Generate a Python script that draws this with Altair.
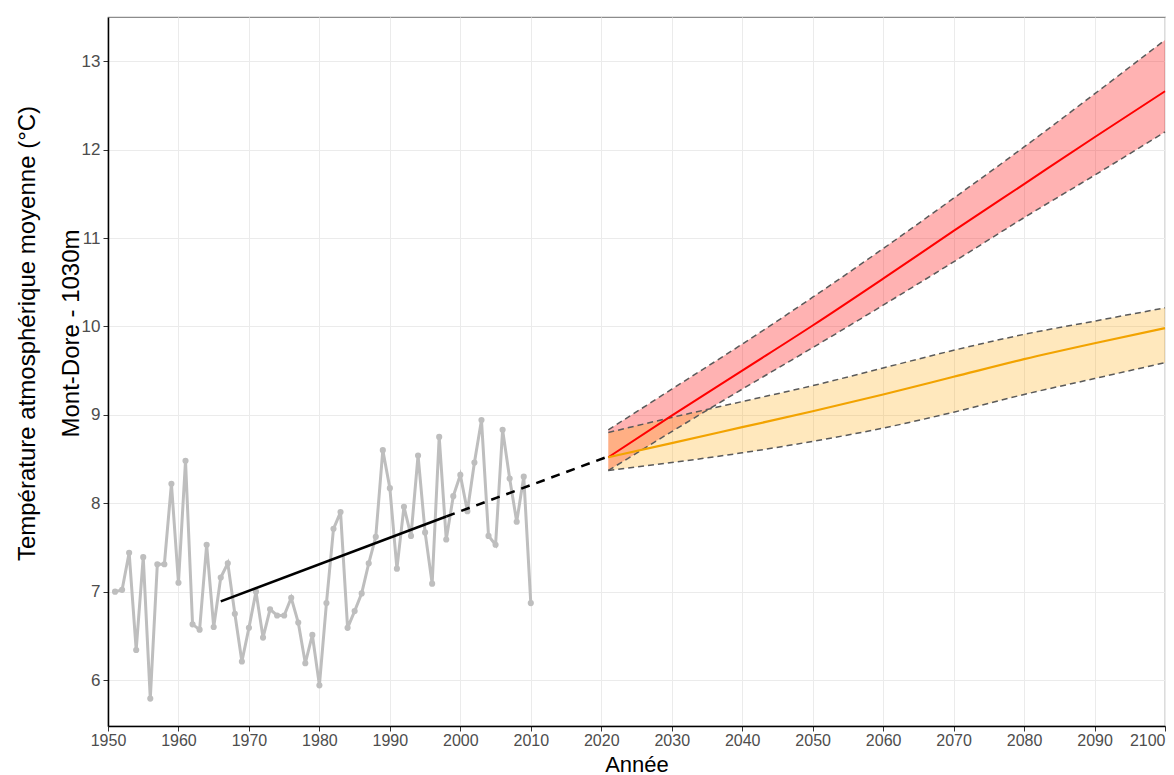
import altair as alt
import pandas as pd

# ---- observed annual means (Mont-Dore) ----
obs_years = list(range(1951, 2011))
obs_temps = [7.00, 7.02, 7.44, 6.34, 7.39, 5.79, 7.31, 7.31, 8.22, 7.10,
             8.48, 6.63, 6.57, 7.53, 6.60, 7.16, 7.32, 6.75, 6.21, 6.59,
             7.00, 6.48, 6.80, 6.73, 6.73, 6.93, 6.65, 6.19, 6.51, 5.94,
             6.87, 7.71, 7.90, 6.59, 6.78, 6.98, 7.32, 7.62, 8.60, 8.17,
             7.26, 7.96, 7.63, 8.54, 7.67, 7.09, 8.75, 7.59, 8.08, 8.32,
             7.91, 8.46, 8.94, 7.63, 7.53, 8.83, 8.28, 7.79, 8.30, 6.87]

# ---- linear trend (solid) and its extension (dashed) ----
trend_years = [1966, 1998]
trend_vals = [6.89, 7.85]
ext_years = [1998, 2021]
ext_vals = [7.85, 8.53]

# ---- projections ----
proj_years = [2021, 2030, 2040, 2050, 2060, 2070, 2080, 2090, 2100]
red_mid = [8.52, 8.99, 9.50, 10.01, 10.54, 11.08, 11.61, 12.14, 12.66]
red_hi = [8.83, 9.29, 9.80, 10.33, 10.88, 11.45, 12.03, 12.63, 13.24]
red_lo = [8.37, 8.81, 9.29, 9.76, 10.24, 10.73, 11.23, 11.71, 12.20]
orange_mid = [8.52, 8.68, 8.86, 9.04, 9.23, 9.43, 9.63, 9.81, 9.98]
orange_hi = [8.80, 8.97, 9.15, 9.33, 9.53, 9.73, 9.91, 10.06, 10.21]
orange_lo = [8.37, 8.46, 8.57, 8.70, 8.85, 9.03, 9.23, 9.41, 9.59]

x_ticks = list(range(1950, 2101, 10))
y_ticks = list(range(6, 14))

FONT = "Liberation Sans, Arial, sans-serif"

obs_df = pd.DataFrame({"year": obs_years, "value": obs_temps})
trend_df = pd.DataFrame({"year": trend_years, "value": trend_vals})
ext_df = pd.DataFrame({"year": ext_years, "value": ext_vals})
red_band = pd.DataFrame({"year": proj_years, "lo": red_lo, "hi": red_hi})
orange_band = pd.DataFrame({"year": proj_years, "lo": orange_lo, "hi": orange_hi})
red_df = pd.DataFrame({"year": proj_years, "value": red_mid})
orange_df = pd.DataFrame({"year": proj_years, "value": orange_mid})
bounds_df = pd.concat([
    pd.DataFrame({"year": proj_years, "value": red_hi, "s": "rh"}),
    pd.DataFrame({"year": proj_years, "value": red_lo, "s": "rl"}),
    pd.DataFrame({"year": proj_years, "value": orange_hi, "s": "oh"}),
    pd.DataFrame({"year": proj_years, "value": orange_lo, "s": "ol"}),
])

xscale = alt.Scale(domain=[1950, 2100], nice=False, zero=False)
yscale = alt.Scale(domain=[5.48, 13.5], nice=False, zero=False)

xaxis = alt.Axis(values=x_ticks, format="d", title="Année", labelFlush=False,
                 labelOverlap=False, labelPadding=1, labelFontSize=16,
                 labelAlign=alt.ExprRef(expr="datum.value >= 2100 ? 'right' : 'center'"),
                 titleY=45, titleBaseline="alphabetic", titleFontSize=22)
yaxis = alt.Axis(values=y_ticks, format="d",
                 title=["Température atmosphérique moyenne (°C)", "Mont-Dore - 1030m"],
                 labelPadding=3, titleX=-74, titleY=316, titleAngle=270,
                 titleAlign="center", titleBaseline="alphabetic",
                 titleLineHeight=44, titleFontSize=24)

X = alt.X("year:Q", scale=xscale, axis=xaxis)
Y = alt.Y("value:Q", scale=yscale, axis=yaxis)
YB = alt.Y("lo:Q", scale=yscale, axis=yaxis)

red_area = alt.Chart(red_band).mark_area(color="#FF0000", opacity=0.3,
                                         interpolate="monotone").encode(
    x=X, y=YB, y2="hi:Q")
orange_area = alt.Chart(orange_band).mark_area(color="#FFA500", opacity=0.26,
                                               interpolate="monotone").encode(
    x=X, y=YB, y2="hi:Q")
bounds = alt.Chart(bounds_df).mark_line(color="#5A5A5A", strokeWidth=1.5,
                                        strokeDash=[6, 4],
                                        interpolate="monotone").encode(
    x=X, y=Y, detail="s:N")
red_line = alt.Chart(red_df).mark_line(color="#FF0000", strokeWidth=2,
                                       interpolate="monotone").encode(x=X, y=Y)
orange_line = alt.Chart(orange_df).mark_line(color="#F2A300", strokeWidth=2.2,
                                             interpolate="monotone").encode(x=X, y=Y)
obs_line = alt.Chart(obs_df).mark_line(color="#BEBEBE", strokeWidth=3).encode(x=X, y=Y)
obs_pts = alt.Chart(obs_df).mark_circle(color="#BEBEBE", opacity=1, size=38).encode(x=X, y=Y)
trend = alt.Chart(trend_df).mark_line(color="black", strokeWidth=2.5).encode(x=X, y=Y)
ext = alt.Chart(ext_df).mark_line(color="black", strokeWidth=2.5,
                                  strokeDash=[9, 7]).encode(x=X, y=Y)

chart = alt.layer(
    red_area, orange_area, bounds, red_line, orange_line,
    obs_line, obs_pts, trend, ext
).properties(
    width=1057, height=709,
    autosize=alt.AutoSizeParams(type="none"),
    padding={"left": 100, "top": 9, "right": 1, "bottom": 49},
    background="white",
).configure_view(
    stroke="#8C8C8C", strokeWidth=1.2
).configure_axis(
    grid=True, gridColor="#EBEBEB", gridWidth=1,
    domainColor="black", domainWidth=1.5,
    tickColor="#333333", tickSize=5, tickWidth=1,
    labelFont=FONT, labelFontSize=17, labelColor="#4D4D4D",
    titleFont=FONT, titleColor="black", titleFontWeight="normal",
)

chart.save("out.html", embed_options={"renderer": "svg", "actions": False})
